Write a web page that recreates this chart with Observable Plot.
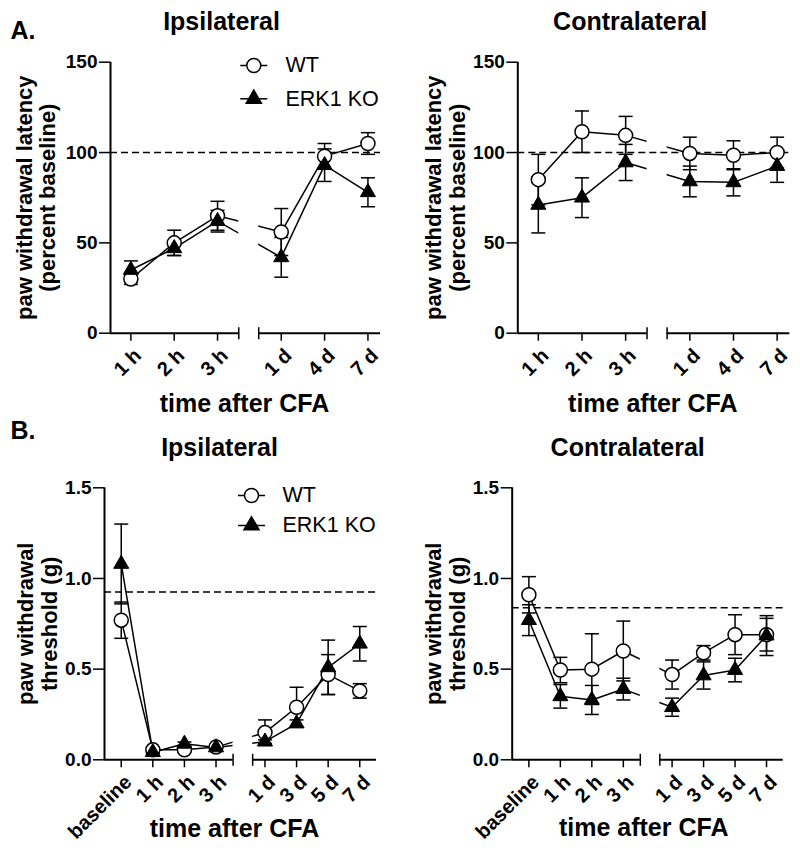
<!DOCTYPE html>
<html><head><meta charset="utf-8">
<script src="https://cdn.jsdelivr.net/npm/d3@7"></script>
<script src="https://cdn.jsdelivr.net/npm/@observablehq/plot@0.6"></script>
<style>
html,body{margin:0;padding:0;background:#fff;}
#root{position:relative;width:800px;height:852px;font-family:"Liberation Sans",Arial,sans-serif;}
#root svg{position:absolute;}
</style></head><body><div id="root"></div>
<script>
// ---------- data ----------
const timesA = ["1 h", "2 h", "3 h", "1 d", "4 d", "7 d"];
const timesB = ["baseline", "1 h", "2 h", "3 h", "1 d", "3 d", "5 d", "7 d"];
const seriesNames = ["WT", "ERK1 KO"];

const aIpsiWT      = [30, 50, 65, 56, 98, 105];
const aIpsiWTErr   = [3, 7, 8, 13, 7, 6];
const aIpsiKO      = [35, 47, 62, 42, 93, 78];
const aIpsiKOErr   = [5, 4, 6, 11, 9, 8];

const aContraWT    = [85, 111.5, 109.5, 99.5, 98.5, 100];
const aContraWTErr = [14, 11.5, 10.5, 9, 8, 8.5];
const aContraKO    = [71, 75, 94.5, 84, 83.5, 92.5];
const aContraKOErr = [15.5, 11, 10, 8.5, 7.5, 9];

const bIpsiWT      = [0.77, 0.055, 0.055, 0.07, 0.15, 0.29, 0.47, 0.38];
const bIpsiWTErr   = [0.1, 0.01, 0.01, 0.01, 0.07, 0.11, 0.11, 0.04];
const bIpsiKO      = [1.08, 0.042, 0.088, 0.068, 0.1, 0.2, 0.51, 0.64];
const bIpsiKOErr   = [0.22, 0.01, 0.01, 0.01, 0.01, 0.02, 0.15, 0.095];

const bContraWT    = [0.91, 0.495, 0.5, 0.6, 0.47, 0.59, 0.69, 0.69];
const bContraWTErr = [0.1, 0.07, 0.195, 0.165, 0.08, 0.04, 0.11, 0.09];
const bContraKO    = [0.77, 0.35, 0.33, 0.39, 0.29, 0.465, 0.495, 0.685];
const bContraKOErr = [0.085, 0.065, 0.08, 0.06, 0.05, 0.075, 0.065, 0.11];

const refA = [100, 100];
const refB = [0.925, 0.838];
const yTicksA = [0, 50, 100, 150];
const yTicksB = [0, 0.5, 1.0, 1.5];

// ---------- layout ----------
const FONT = "'Liberation Sans', Arial, sans-serif";
const layoutA = {cats: timesA, split: 3, extra: 0.47, domain: [-0.47, 5.76], segs: [[-0.47, 2.49], [2.95, 5.76]],
  y: [0, 150], yticks: yTicksA, fmt: d => String(d), height: 400, marginTop: 61.7, marginBottom: 67.3,
  ylabel: "paw withdrawal latency\n(percent baseline)"};
const layoutB = {cats: timesB, split: 4, extra: 0.55, domain: [-0.53, 8.08], segs: [[-0.53, 3.54], [4.16, 8.08]],
  y: [0, 1.5], yticks: yTicksB, fmt: d3.format(".1f"), height: 452, marginTop: 87.3, marginBottom: 92.7,
  ylabel: "paw withdrawal\nthreshold (g)"};

const panels = [
  {L: layoutA, left: 0, top: 0, marginLeft: 110, marginRight: 20, wt: aIpsiWT, wtErr: aIpsiWTErr, ko: aIpsiKO, koErr: aIpsiKOErr,
   ref: refA[0], title: "Ipsilateral", titleDx: -24, titleDy: -32.7, letter: "A.", legend: {dx: 143.3, dy1: 3.3, dy2: 36.6, tdx: 175},
   ylabDx: -74.5, xlabDx: -1, xlabDy: 78.8},
  {L: layoutA, left: 400, top: 0, marginLeft: 117.3, marginRight: 10.7, wt: aContraWT, wtErr: aContraWTErr, ko: aContraKO, koErr: aContraKOErr,
   ref: refA[1], title: "Contralateral", titleDx: -23.6, titleDy: -32.7, ylabDx: -72.6, xlabDx: -1, xlabDy: 78.8},
  {L: layoutB, left: 0, top: 400, marginLeft: 104, marginRight: 24, wt: bIpsiWT, wtErr: bIpsiWTErr, ko: bIpsiKO, koErr: bIpsiKOErr,
   ref: refB[0], title: "Ipsilateral", titleDx: -21, titleDy: -32.3, letter: "B.", legend: {dx: 147, dy1: 7.7, dy2: 37.7, tdx: 178},
   ylabDx: -67, xlabDx: -6, xlabDy: 77},
  {L: layoutB, left: 400, top: 400, marginLeft: 111.7, marginRight: 17.3, wt: bContraWT, wtErr: bContraWTErr, ko: bContraKO, koErr: bContraKOErr,
   ref: refB[1], title: "Contralateral", titleDx: -20, titleDy: -32.3, ylabDx: -66.7, xlabDx: -4, xlabDy: 76}
];

// custom symbols (pixel sized)
const hline = (h) => ({draw(ctx) { ctx.moveTo(-h, 0); ctx.lineTo(h, 0); }});
const vline = (h) => ({draw(ctx) { ctx.moveTo(0, -h); ctx.lineTo(0, h); }});

const root = document.getElementById("root");

for (const p of panels) {
  const L = p.L;
  const pos = (i) => i + (i >= L.split ? L.extra : 0);
  const rows = (vals, errs, name) => vals.map((v, i) => ({pos: pos(i), cat: L.cats[i], value: v, err: errs[i], series: name}));
  const wt = rows(p.wt, p.wtErr, seriesNames[0]);
  const ko = rows(p.ko, p.koErr, seriesNames[1]);
  const tickRows = L.cats.map((c, i) => ({pos: pos(i), cat: c}));
  const yMin = L.y[0], yMax = L.y[1];
  const segEnds = [L.segs[0][1], L.segs[1][0]];

  const marks = [
    Plot.line(wt, {x: "pos", y: "value", stroke: "black", strokeWidth: 1.5}),
    Plot.line(ko, {x: "pos", y: "value", stroke: "black", strokeWidth: 1.5}),
    Plot.rect([0], {x1: () => segEnds[0], x2: () => segEnds[1], y1: () => yMin, y2: () => yMax, fill: "white"}),
    ...[wt, ko].flatMap(s => [
      Plot.ruleX(s, {x: "pos", y1: d => d.value - d.err, y2: d => d.value + d.err, stroke: "black", strokeWidth: 1.5}),
      Plot.dot(s, {x: "pos", y: d => d.value + d.err, symbol: hline(7), fill: "none", stroke: "black", strokeWidth: 1.5}),
      Plot.dot(s, {x: "pos", y: d => d.value - d.err, symbol: hline(7), fill: "none", stroke: "black", strokeWidth: 1.5})
    ]),
    Plot.ruleY(L.segs, {y: () => yMin, x1: d => d[0], x2: d => d[1], stroke: "black", strokeWidth: 2}),
    Plot.dot(segEnds, {x: d => d, y: () => yMin, symbol: vline(6), fill: "none", stroke: "black", strokeWidth: 1.5}),
    Plot.ruleX([L.domain[0]], {stroke: "black", strokeWidth: 2}),
    // x ticks (marks only) and rotated category labels
    Plot.axisX({ticks: tickRows.map(d => d.pos), tickFormat: () => "", tickSize: 8, strokeWidth: 1.5, label: null}),
    Plot.text(tickRows, {x: "pos", y: () => yMin, text: "cat", rotate: -45, textAnchor: "end", lineAnchor: "middle",
      dx: 7, dy: 19, fontSize: 20, fontWeight: "bold"}),
    // y ticks (marks only) and labels
    Plot.axisY({ticks: L.yticks, tickFormat: () => "", tickSize: 11, strokeWidth: 1.5, label: null}),
    Plot.text(L.yticks, {x: () => L.domain[0], y: d => d, text: L.fmt, textAnchor: "end", lineAnchor: "middle",
      dx: -13, fontSize: 19, fontWeight: "bold"}),
    Plot.ruleY([p.ref], {stroke: "black", strokeWidth: 1.5, strokeDasharray: "7,4"}),
    Plot.dot(wt, {x: "pos", y: "value", symbol: "circle", r: 7, fill: "white", stroke: "black", strokeWidth: 1.5}),
    Plot.dot(ko, {x: "pos", y: "value", symbol: "triangle", r: 5.6, fill: "black", stroke: "black", strokeWidth: 1}),
    Plot.text([p.title], {text: d => d, frameAnchor: "top", dx: p.titleDx, dy: p.titleDy, textAnchor: "middle", lineAnchor: "bottom",
      fontSize: 25, fontWeight: "bold"}),
    Plot.text(["time after CFA"], {text: d => d, frameAnchor: "bottom", dx: p.xlabDx, dy: p.xlabDy, textAnchor: "middle", lineAnchor: "bottom",
      fontSize: 25, fontWeight: "bold"}),
    Plot.text([L.ylabel], {text: d => d, frameAnchor: "left", rotate: -90, dx: p.ylabDx, textAnchor: "middle", lineAnchor: "middle",
      lineHeight: 1.08, fontSize: 22, fontWeight: "bold"})
  ];

  if (p.letter) {
    marks.push(Plot.text([p.letter], {text: d => d, frameAnchor: "top-left", dx: 10 - p.marginLeft, dy: 38.3 - L.marginTop,
      textAnchor: "start", lineAnchor: "bottom", fontSize: 25, fontWeight: "bold"}));
  }
  if (p.legend) {
    const g = p.legend;
    const items = [
      {name: seriesNames[0], dy: g.dy1, symbol: "circle", r: 7, fill: "white"},
      {name: seriesNames[1], dy: g.dy2, symbol: "triangle", r: 5.6, fill: "black"}
    ];
    for (const it of items) {
      marks.push(
        Plot.dot([it], {frameAnchor: "top-left", dx: g.dx, dy: it.dy, symbol: hline(13.5), fill: "none", stroke: "black", strokeWidth: 1.5}),
        Plot.dot([it], {frameAnchor: "top-left", dx: g.dx, dy: it.dy, symbol: it.symbol, r: it.r, fill: it.fill, stroke: "black", strokeWidth: 1.5}),
        Plot.text([it], {text: "name", frameAnchor: "top-left", dx: g.tdx, dy: it.dy, textAnchor: "start", lineAnchor: "middle",
          fontSize: 21.5, fontWeight: "normal"})
      );
    }
  }

  const svg = Plot.plot({
    width: 400, height: L.height,
    marginTop: L.marginTop, marginBottom: L.marginBottom, marginLeft: p.marginLeft, marginRight: p.marginRight,
    x: {domain: L.domain, label: null},
    y: {domain: L.y, label: null},
    style: {fontFamily: FONT, color: "black", background: "transparent", overflow: "visible"},
    marks
  });
  svg.style.left = p.left + "px";
  svg.style.top = p.top + "px";
  root.appendChild(svg);
}
</script></body></html>
